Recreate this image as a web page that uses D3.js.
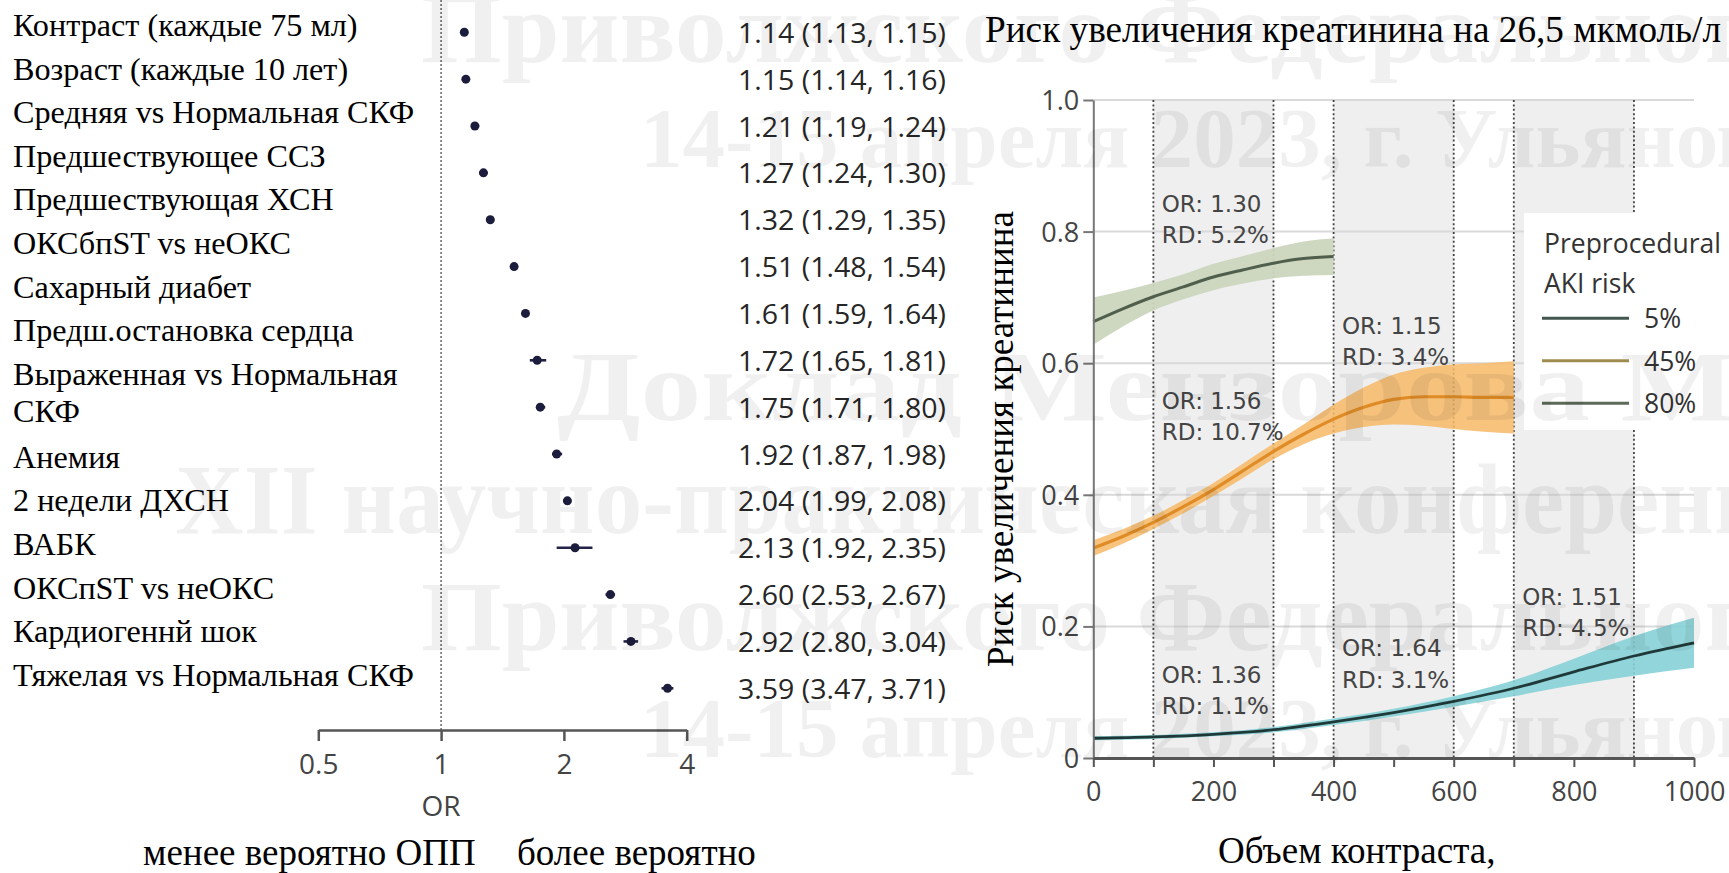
<!DOCTYPE html>
<html>
<head>
<meta charset="utf-8">
<script src="https://cdn.jsdelivr.net/npm/d3@7"></script>
<style>
  html, body { margin: 0; padding: 0; background: #fff; }
  svg { display: block; }
</style>
</head>
<body>
<svg id="chart" width="1729" height="873"></svg>
<script>
// ---------------- DATA ----------------
const predictors = [
  "Контраст (каждые 75 мл)", "Возраст (каждые 10 лет)", "Средняя vs Нормальная СКФ",
  "Предшествующее ССЗ", "Предшествующая ХСН", "ОКСбпST vs неОКС", "Сахарный диабет",
  "Предш.остановка сердца", "Выраженная vs Нормальная\nСКФ", "Анемия", "2 недели ДХСН",
  "ВАБК", "ОКСпST vs неОКС", "Кардиогеннй шок", "Тяжелая vs Нормальная СКФ"
];
const orValue = [1.14, 1.15, 1.21, 1.27, 1.32, 1.51, 1.61, 1.72, 1.75, 1.92, 2.04, 2.13, 2.60, 2.92, 3.59];
const orLow   = [1.13, 1.14, 1.19, 1.24, 1.29, 1.48, 1.59, 1.65, 1.71, 1.87, 1.99, 1.92, 2.53, 2.80, 3.47];
const orHigh  = [1.15, 1.16, 1.24, 1.30, 1.35, 1.54, 1.64, 1.81, 1.80, 1.98, 2.08, 2.35, 2.67, 3.04, 3.71];
const orTicks = [0.5, 1, 2, 4];

// Right chart: risk vs contrast volume
const x80   = [0, 50, 100, 150, 200, 250, 300, 350, 400];
const mid80 = [0.663, 0.683, 0.701, 0.716, 0.731, 0.742, 0.752, 0.759, 0.762];
const lo80  = [0.628, 0.656, 0.680, 0.697, 0.711, 0.721, 0.729, 0.733, 0.734];
const hi80  = [0.700, 0.710, 0.722, 0.735, 0.751, 0.763, 0.775, 0.785, 0.790];

const x45   = [0, 50, 100, 150, 200, 250, 300, 350, 400, 450, 500, 550, 600, 650, 700];
const mid45 = [0.319, 0.337, 0.358, 0.382, 0.408, 0.437, 0.466, 0.492, 0.515, 0.533, 0.545, 0.549, 0.549, 0.548, 0.548];
const lo45  = [0.307, 0.326, 0.348, 0.372, 0.398, 0.426, 0.454, 0.477, 0.493, 0.503, 0.507, 0.505, 0.500, 0.496, 0.493];
const hi45  = [0.331, 0.348, 0.368, 0.392, 0.418, 0.448, 0.478, 0.507, 0.537, 0.563, 0.583, 0.593, 0.598, 0.600, 0.603];

const x5    = [0, 100, 200, 300, 400, 500, 600, 700, 800, 900, 1000];
const mid5  = [0.030, 0.032, 0.036, 0.043, 0.055, 0.069, 0.086, 0.106, 0.131, 0.155, 0.175];
const lo5   = [0.027, 0.029, 0.033, 0.039, 0.050, 0.063, 0.078, 0.094, 0.111, 0.125, 0.137];
const hi5   = [0.033, 0.035, 0.039, 0.047, 0.060, 0.075, 0.094, 0.118, 0.151, 0.185, 0.213];

const xTicksMajor = [0, 200, 400, 600, 800, 1000];
const xTicksMinor = [0, 100, 200, 300, 400, 500, 600, 700, 800, 900, 1000];
const yTicks = [0, 0.2, 0.4, 0.6, 0.8, 1.0];
const yTickLabels = ["0", "0.2", "0.4", "0.6", "0.8", "1.0"];
const dividers = [100, 300, 400, 600, 700, 900];
const grayBands = [[100, 300], [400, 600], [700, 900]];

const annotOR = ["OR: 1.30", "OR: 1.15", "OR: 1.56", "OR: 1.36", "OR: 1.64", "OR: 1.51"];
const annotRD = ["RD: 5.2%", "RD: 3.4%", "RD: 10.7%", "RD: 1.1%", "RD: 3.1%", "RD: 4.5%"];
const annotX  = [100, 400, 100, 100, 400, 700];
const annotY  = [0.830, 0.645, 0.531, 0.114, 0.155, 0.233];

const legendTitle = ["Preprocedural", "AKI risk"];
const legendLabels = ["5%", "45%", "80%"];
const legendColors = ["#43564f", "#a08c4e", "#5d6a58"];

const watermark = [
  "Приволжского Федерального",
  "14-15 апреля 2023, г. Ульяновск",
  "Доклад Мензорова М.В.",
  "XII научно-практическая конференция",
  "Приволжского Федерального",
  "14-15 апреля 2023, г. Ульяновск"
];

// ---------------- DRAW ----------------
const svg = d3.select("#chart");
const serif = "'Liberation Serif', 'Times New Roman', serif";
const sans = "'Open Sans', sans-serif";

svg.append("rect").attr("width", 1729).attr("height", 873).attr("fill", "#fff");

// ===== Forest plot =====
const fx = d3.scaleLog().domain([0.5, 4]).range([318.3, 686.7]);
const fy = d3.scaleLinear().domain([0, predictors.length - 1]).range([32.3, 688.3]);

const forest = svg.append("g");
forest.append("line")
  .attr("x1", fx(1)).attr("x2", fx(1)).attr("y1", 0).attr("y2", 730)
  .attr("stroke", "#808080").attr("stroke-width", 1.8).attr("stroke-dasharray", "2,2");

const fAxis = d3.axisBottom(fx).tickValues(orTicks).tickFormat(d3.format("")).tickSize(11).tickSizeOuter(0);
const fAxisG = forest.append("g").attr("transform", "translate(0,730)").call(fAxis);
fAxisG.select(".domain").attr("stroke", "#555").attr("stroke-width", 2.5);
fAxisG.selectAll(".tick line").attr("stroke", "#555").attr("stroke-width", 2.5);
fAxisG.selectAll(".tick text").attr("font-family", sans).attr("font-size", 28)
  .attr("fill", "#444").attr("dy", 0).attr("y", 44);
forest.append("text").attr("x", fx(1)).attr("y", 816).attr("text-anchor", "middle")
  .attr("font-family", sans).attr("font-size", 28).attr("fill", "#444").text("OR");

const rows = predictors.map((p, i) => ({ i, or: orValue[i], lo: orLow[i], hi: orHigh[i] }));
forest.selectAll("line.ci").data(rows).join("line").attr("class", "ci")
  .attr("x1", d => fx(d.lo)).attr("x2", d => fx(d.hi))
  .attr("y1", d => fy(d.i)).attr("y2", d => fy(d.i))
  .attr("stroke", "#23234a").attr("stroke-width", 2.6);
forest.selectAll("circle.pt").data(rows).join("circle").attr("class", "pt")
  .attr("cx", d => fx(d.or)).attr("cy", d => fy(d.i)).attr("r", 4.5)
  .attr("fill", "#1c1c3c");

const fmt = d3.format(".2f");
forest.selectAll("text.val").data(rows).join("text").attr("class", "val")
  .attr("x", 738).attr("y", d => fy(d.i) + 10.5)
  .attr("font-family", sans).attr("font-size", 28).attr("fill", "#262626")
  .attr("textLength", 208).attr("lengthAdjust", "spacingAndGlyphs")
  .text(d => `${fmt(d.or)} (${fmt(d.lo)}, ${fmt(d.hi)})`);

const labG = svg.append("g");
predictors.forEach((p, k) => {
  const base = 36 + 43.6 * k + (k >= 9 ? 39.4 : 0);
  p.split("\n").forEach((line, j) => {
    labG.append("text").attr("x", 13).attr("y", base + j * 36.7)
      .attr("font-family", serif).attr("font-size", 32.2).attr("fill", "#000")
      .text(line);
  });
});

svg.append("text").attr("x", 143).attr("y", 865).attr("font-family", serif)
  .attr("font-size", 37).attr("fill", "#000").text("менее вероятно ОПП");
svg.append("text").attr("x", 517).attr("y", 865).attr("font-family", serif)
  .attr("font-size", 37).attr("fill", "#000").text("более вероятно");

// ===== Right chart =====
const rx = d3.scaleLinear().domain([0, 1000]).range([1093.3, 1694]);
const ry = d3.scaleLinear().domain([0, 1]).range([758, 100]);
const rc = svg.append("g");

rc.selectAll("rect.band").data(grayBands).join("rect").attr("class", "band")
  .attr("x", d => rx(d[0])).attr("width", d => rx(d[1]) - rx(d[0]))
  .attr("y", ry(1)).attr("height", ry(0) - ry(1)).attr("fill", "#efefef");

rc.selectAll("line.grid").data(yTicks.filter(d => d > 0)).join("line").attr("class", "grid")
  .attr("x1", rx(0)).attr("x2", rx(1000)).attr("y1", d => ry(d)).attr("y2", d => ry(d))
  .attr("stroke", "#d9d9d9").attr("stroke-width", 2);

rc.selectAll("line.div").data(dividers).join("line").attr("class", "div")
  .attr("x1", d => rx(d)).attr("x2", d => rx(d)).attr("y1", ry(1)).attr("y2", ry(0))
  .attr("stroke", "#444").attr("stroke-width", 1.8).attr("stroke-dasharray", "2,2.4");

function drawSeries(xs, mid, lo, hi, bandColor, bandOpacity, lineColor, lineWidth) {
  const pts = xs.map((x, i) => ({ x, m: mid[i], l: lo[i], h: hi[i] }));
  const area = d3.area().x(d => rx(d.x)).y0(d => ry(d.l)).y1(d => ry(d.h)).curve(d3.curveMonotoneX);
  const line = d3.line().x(d => rx(d.x)).y(d => ry(d.m)).curve(d3.curveMonotoneX);
  rc.append("path").datum(pts).attr("d", area).attr("fill", bandColor).attr("fill-opacity", bandOpacity);
  rc.append("path").datum(pts).attr("d", line).attr("fill", "none")
    .attr("stroke", lineColor).attr("stroke-width", lineWidth);
}
drawSeries(x80, mid80, lo80, hi80, "#cbd5bd", 0.95, "#4f5f4b", 3);
drawSeries(x45, mid45, lo45, hi45, "#f6b866", 0.85, "#e08c26", 3.2);
drawSeries(x5, mid5, lo5, hi5, "#86d0d6", 0.9, "#1f3a39", 2.8);

const yAxis = d3.axisLeft(ry).tickValues(yTicks).tickFormat((d, i) => yTickLabels[i]).tickSize(10).tickSizeOuter(0);
const yG = rc.append("g").attr("transform", `translate(${rx(0)},0)`).call(yAxis);
yG.select(".domain").attr("stroke", "#777").attr("stroke-width", 2);
yG.selectAll(".tick line").attr("stroke", "#777").attr("stroke-width", 2);
yG.selectAll(".tick text").attr("font-family", sans).attr("font-size", 27).attr("fill", "#444")
  .attr("x", -14).attr("dy", "0.35em");

const xAxisMinor = d3.axisBottom(rx).tickValues(xTicksMinor).tickFormat("").tickSize(9).tickSizeOuter(0);
const xmG = rc.append("g").attr("transform", `translate(0,${ry(0)})`).call(xAxisMinor);
xmG.select(".domain").attr("stroke", "#555").attr("stroke-width", 3);
xmG.selectAll(".tick line").attr("stroke", "#555").attr("stroke-width", 2);
const xAxis = d3.axisBottom(rx).tickValues(xTicksMajor).tickFormat(d3.format("d")).tickSize(0);
const xG = rc.append("g").attr("transform", `translate(0,${ry(0)})`).call(xAxis);
xG.select(".domain").remove();
xG.selectAll(".tick text").attr("font-family", sans).attr("font-size", 27).attr("fill", "#444")
  .attr("dy", 0).attr("y", 43);

const ann = rc.append("g");
annotOR.forEach((t, i) => {
  const x0 = rx(annotX[i]) + 8.4, y0 = ry(annotY[i]);
  ann.append("text").attr("x", x0).attr("y", y0).attr("font-family", "'DejaVu Sans', sans-serif")
    .attr("font-size", 23).attr("fill", "#444").text(t);
  ann.append("text").attr("x", x0).attr("y", y0 + 31.5).attr("font-family", "'DejaVu Sans', sans-serif")
    .attr("font-size", 23).attr("fill", "#444").text(annotRD[i]);
});

const lg = rc.append("g");
lg.append("rect").attr("x", 1524).attr("y", 213).attr("width", 205).attr("height", 217).attr("fill", "#fff");
legendTitle.forEach((t, i) => {
  lg.append("text").attr("x", 1544).attr("y", 253.3 + i * 40).attr("font-family", sans)
    .attr("font-size", 26.5).attr("fill", "#333").text(t);
});
legendLabels.forEach((t, i) => {
  const yy = 318.3 + i * 42.5;
  lg.append("line").attr("x1", 1542).attr("x2", 1629).attr("y1", yy).attr("y2", yy)
    .attr("stroke", legendColors[i]).attr("stroke-width", 3);
  lg.append("text").attr("x", 1644).attr("y", yy + 10).attr("font-family", sans)
    .attr("font-size", 26.5).attr("fill", "#333").text(t);
});

svg.append("text").attr("x", 985).attr("y", 41.7).attr("font-family", serif)
  .attr("font-size", 37).attr("fill", "#000")
  .attr("textLength", 736).attr("lengthAdjust", "spacingAndGlyphs")
  .text("Риск увеличения креатинина на 26,5 мкмоль/л");
svg.append("text").attr("transform", "translate(1013,439) rotate(-90)")
  .attr("text-anchor", "middle").attr("font-family", serif).attr("font-size", 37).attr("fill", "#000")
  .text("Риск увеличения креатинина");
svg.append("text").attr("x", 1218).attr("y", 863).attr("font-family", serif)
  .attr("font-size", 37).attr("fill", "#000").text("Объем контраста,");

// watermark overlay
const wmPos = [
  { x: 421, y: 62, fs: 100, len: 1380 },
  { x: 640, y: 167, fs: 85, len: 1210 },
  { x: 557, y: 420, fs: 100, len: 1320 },
  { x: 175, y: 533, fs: 100, len: 1700 },
  { x: 421, y: 650, fs: 100, len: 1380 },
  { x: 640, y: 757, fs: 85, len: 1210 }
];
const wm = svg.append("g").attr("pointer-events", "none");
watermark.forEach((t, i) => {
  const p = wmPos[i];
  wm.append("text").attr("x", p.x).attr("y", p.y).attr("font-family", serif)
    .attr("font-weight", "bold").attr("font-size", p.fs).attr("fill", "rgba(0,0,0,0.058)")
    .attr("textLength", p.len).attr("lengthAdjust", "spacingAndGlyphs").text(t);
});
</script>
</body>
</html>
